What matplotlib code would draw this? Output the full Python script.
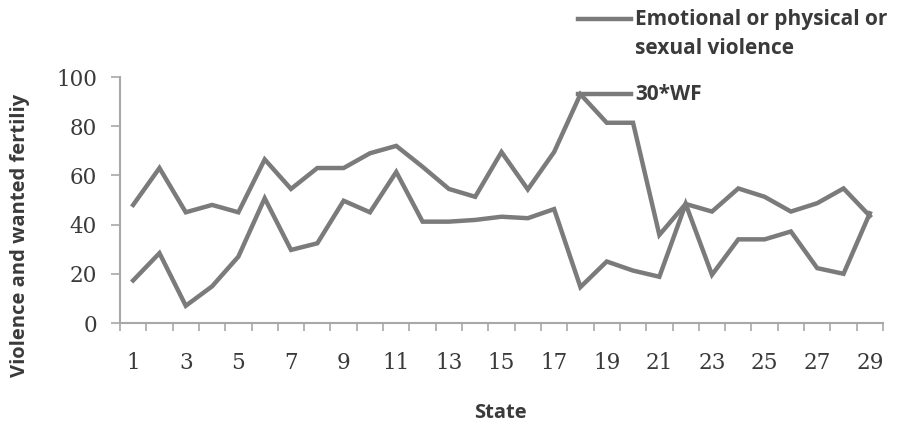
import matplotlib.pyplot as plt
from matplotlib.lines import Line2D
from matplotlib.ticker import FixedLocator

# Данные
states = list(range(1, 30))
wf30 = [48, 63, 45, 48, 45, 66.5, 54.5, 63, 63, 69, 72, 63.5, 54.5, 51.3, 69.5,
        54.3, 69.5, 93, 81.4, 81.4, 35.8, 48.4, 45.3, 54.7, 51.3, 45.3, 48.7, 54.7, 43.5]
violence = [17.3, 28.4, 7, 14.9, 27, 50.7, 29.7, 32.4, 49.7, 45, 61.4, 41.2, 41.2, 41.9,
            43.2, 42.6, 46.3, 14.6, 25, 21.3, 18.8, 48.4, 19.6, 34, 34, 37.2, 22.3, 20, 44.6]
labels = ["Emotional or physical or\nsexual violence", "30*WF"]

line_col = "#7b7b7b"
axis_col = "#a8a8a8"
text_col = "#3a3a3a"

fig = plt.figure(figsize=(9.07, 4.26), dpi=100)
ax = fig.add_axes([120 / 907, 1 - 323 / 426, (883 - 120) / 907, (323 - 77) / 426])

ax.plot(states, violence, color=line_col, lw=3.2, solid_joinstyle="miter")
ax.plot(states, wf30, color=line_col, lw=3.2, solid_joinstyle="miter")

ax.set_xlim(0.5, 29.5)
ax.set_ylim(0, 100)
ax.set_yticks(range(0, 101, 20))
ax.set_xticks(states[::2])
ax.xaxis.set_minor_locator(FixedLocator([s - 0.5 for s in states] + [29.5]))

for s in ["top", "right"]:
    ax.spines[s].set_visible(False)
for s in ["left", "bottom"]:
    ax.spines[s].set_color(axis_col)
    ax.spines[s].set_linewidth(1.5)

ax.tick_params(axis="x", which="major", length=0, pad=21)
ax.tick_params(axis="x", which="minor", length=6, width=1.2, color=axis_col, direction="out")
ax.tick_params(axis="y", length=6.5, width=1.2, color=axis_col, pad=10)
for t in ax.get_xticklabels() + ax.get_yticklabels():
    t.set_fontfamily("DejaVu Serif")
    t.set_fontsize(15.5)
    t.set_color(text_col)

fig.text(20 / 907, 1 - 235 / 426, "Violence and wanted fertiliy", rotation=90,
         ha="center", va="center", fontsize=14.5, fontweight="bold",
         family="Open Sans", color=text_col)
fig.text(500 / 907, 1 - 413 / 426, "State", ha="center", va="center",
         fontsize=14.5, fontweight="bold", family="Open Sans", color=text_col)

# Легенда вручную, как в исходнике
leg_y = [19, 94]
for y, lab in zip(leg_y, labels):
    fig.add_artist(Line2D([578 / 907, 631 / 907], [1 - y / 426, 1 - y / 426],
                          color=line_col, lw=3.2))
    fig.text(635 / 907, 1 - (y - 10) / 426, lab, ha="left", va="top",
             fontsize=15, fontweight="bold", family="Open Sans", color=text_col,
             linespacing=1.5)

fig.savefig("out.png", dpi=100, facecolor="white")
